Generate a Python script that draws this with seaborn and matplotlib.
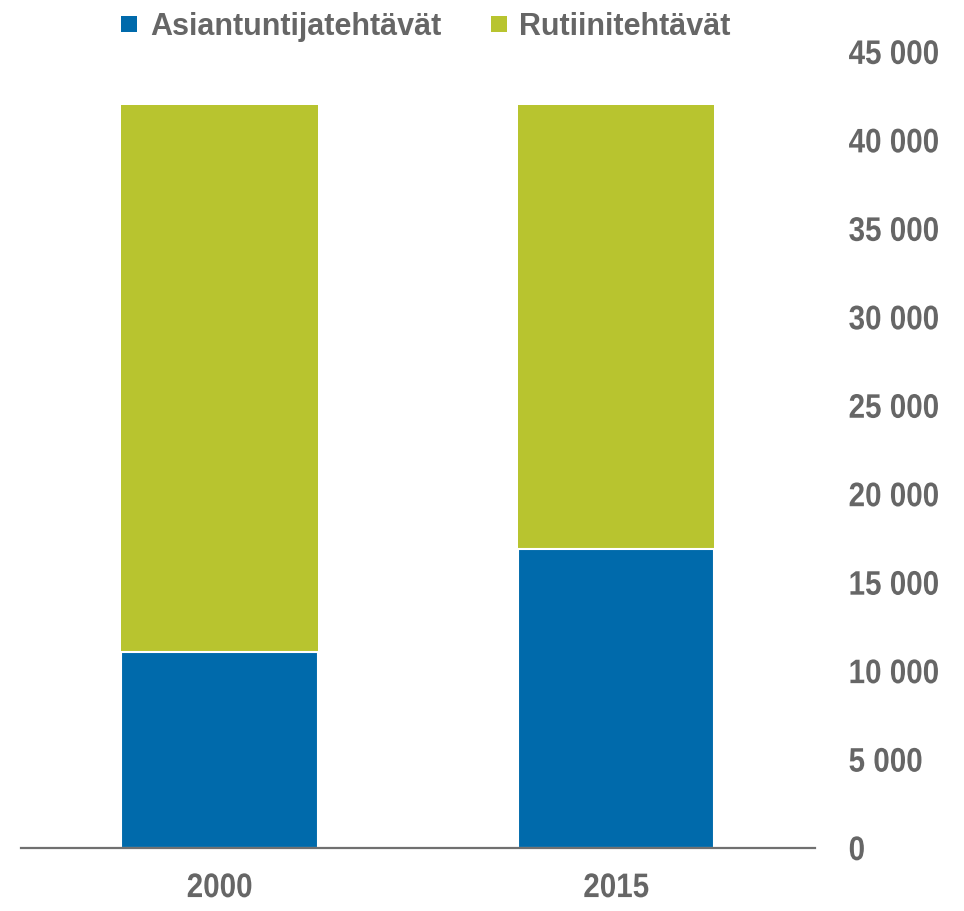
import matplotlib
matplotlib.use("Agg")
import matplotlib.pyplot as plt
import matplotlib.patches as mpatches
from matplotlib import patheffects
from matplotlib.transforms import Affine2D
from matplotlib.ticker import FuncFormatter
import seaborn as sns
import pandas as pd

years = ["2000", "2015"]
asiantuntija = [11100, 16900]
rutiini = [30900, 25100]
series_names = ["Asiantuntijatehtävät", "Rutiinitehtävät"]
yticks = [0, 5000, 10000, 15000, 20000, 25000, 30000, 35000, 40000, 45000]

blue = "#006AAB"
green = "#B8C42F"
txt = "#666666"

sns.set_theme(style="white")
plt.rcParams["font.family"] = ["Liberation Sans", "DejaVu Sans"]


class Squeeze(patheffects.AbstractPathEffect):
    """Horizontally condense text (to mimic a narrow font)."""
    def __init__(self, sx=0.87, anchor="left"):
        super().__init__()
        self.sx = sx
        self.anchor = anchor

    def draw_path(self, renderer, gc, tpath, affine, rgbFace=None):
        if self.anchor == "center":
            ext = tpath.get_extents()
            cx = (ext.x0 + ext.x1) / 2
        else:
            cx = 0.0
        sq = Affine2D().translate(-cx, 0).scale(self.sx, 1).translate(cx, 0)
        renderer.draw_path(gc, tpath, sq + affine, rgbFace)


totals = [a + r for a, r in zip(asiantuntija, rutiini)]
df_total = pd.DataFrame({"year": years, "value": totals})
df_blue = pd.DataFrame({"year": years, "value": asiantuntija})

fig = plt.figure(figsize=(9.64, 9.12), dpi=100)
ax = fig.add_axes([0.022, 0.069, 0.823, 0.873])

sns.barplot(data=df_total, x="year", y="value", color=green, width=0.495,
            saturation=1, ax=ax, edgecolor="none", linewidth=0)
sns.barplot(data=df_blue, x="year", y="value", color=blue, width=0.495,
            saturation=1, ax=ax, edgecolor="white", linewidth=1.5)

ax.set_xlim(-0.5, 1.5)
ax.set_ylim(0, 45000)
ax.set_yticks(yticks)
ax.yaxis.set_major_formatter(FuncFormatter(lambda v, p: f"{int(v):,}".replace(",", " ")))
ax.yaxis.tick_right()
ax.set_xlabel("")
ax.set_ylabel("")
for s in ["top", "left", "right"]:
    ax.spines[s].set_visible(False)
ax.spines["bottom"].set_color("#707070")
ax.spines["bottom"].set_linewidth(1.6)
ax.spines["bottom"].set_zorder(5)
ax.tick_params(axis="y", length=0, pad=24.5, labelsize=24.5, labelcolor=txt)
ax.tick_params(axis="x", length=0, pad=18, labelsize=24.5, labelcolor=txt)
for lab in ax.get_yticklabels():
    lab.set_fontweight("bold")
    lab.set_path_effects([Squeeze(0.87, "left")])
for lab in ax.get_xticklabels():
    lab.set_fontweight("bold")
    lab.set_path_effects([Squeeze(0.87, "center")])

# legend (manual, pixel-placed)
W, H = 964, 912
legend_items = [(series_names[0], blue, 121, 150), (series_names[1], green, 491, 519)]
for name, col, sq_x, tx in legend_items:
    fig.add_artist(mpatches.Rectangle((sq_x / W, 1 - 33 / H), 16 / W, 16 / H,
                                      transform=fig.transFigure, color=col, lw=0))
    fig.text(tx / W, 1 - 35 / H, name, ha="left", va="baseline", fontsize=22,
             fontweight="bold", color=txt)

fig.savefig("out.png", dpi=100)
